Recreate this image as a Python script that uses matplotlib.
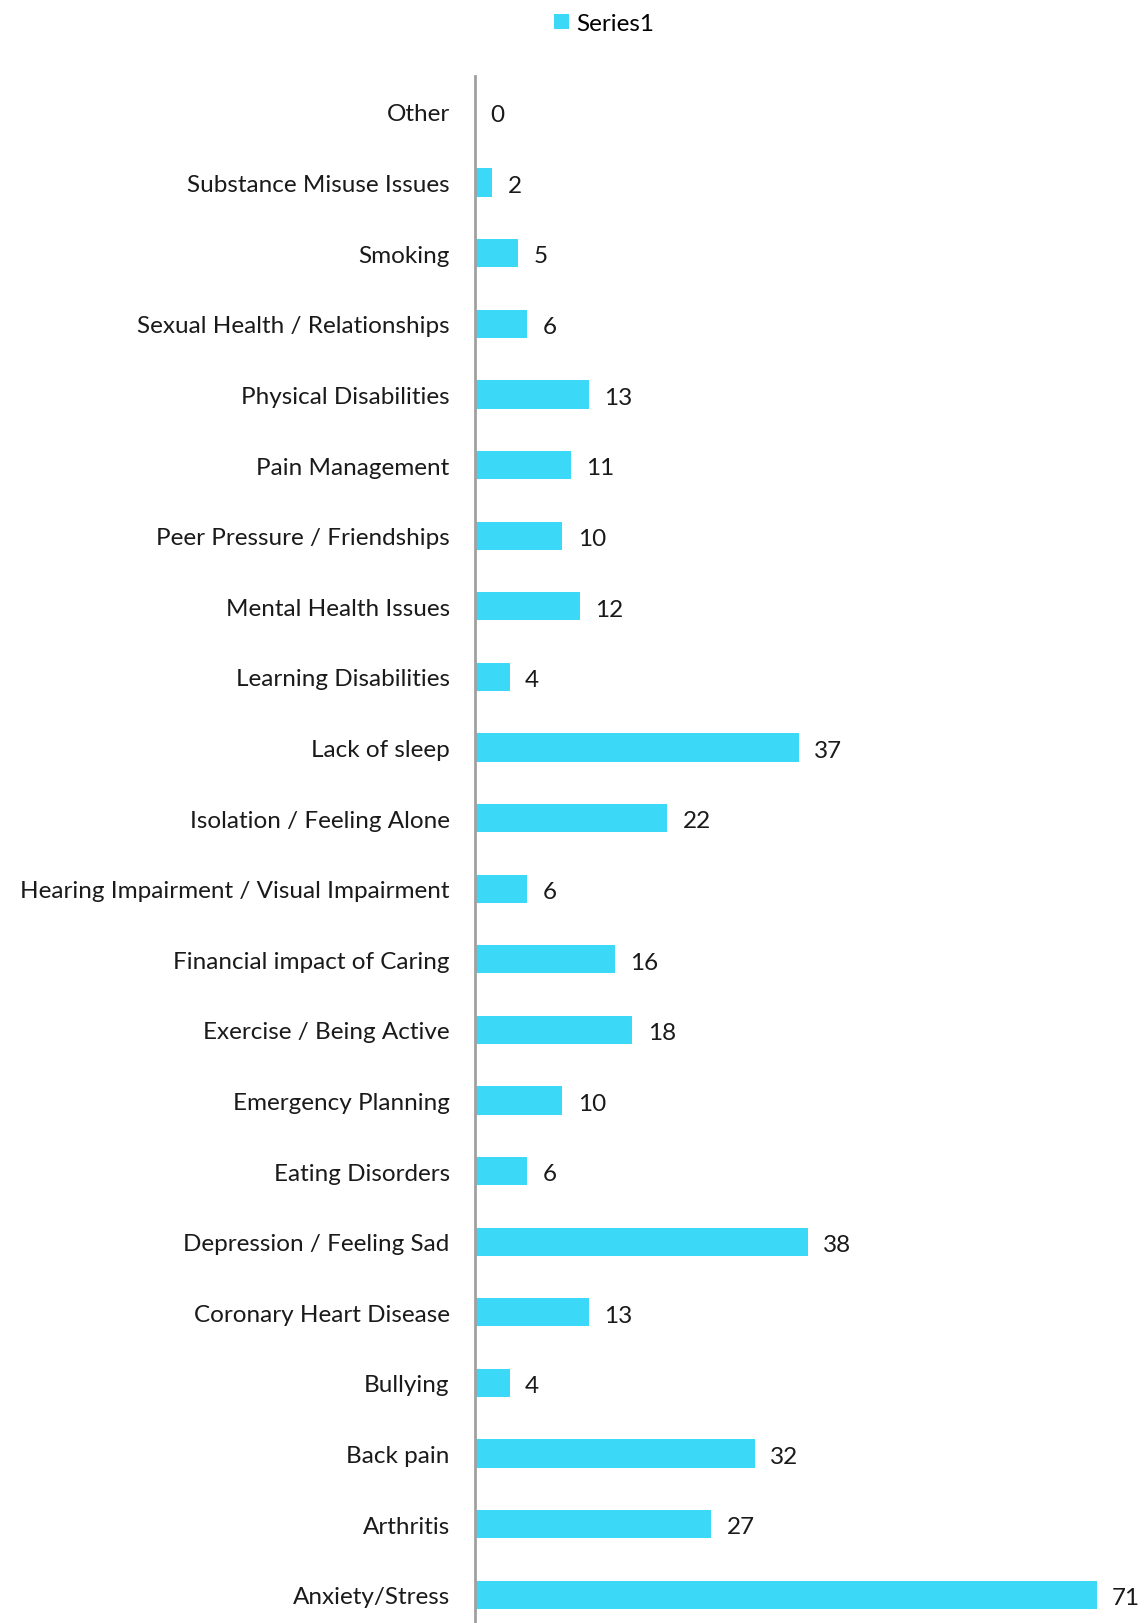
import matplotlib.pyplot as plt
import numpy as np

plt.rcParams['font.family'] = ['Lato', 'DejaVu Sans']

categories = [
    "Anxiety/Stress", "Arthritis", "Back pain", "Bullying",
    "Coronary Heart Disease", "Depression / Feeling Sad", "Eating Disorders",
    "Emergency Planning", "Exercise / Being Active", "Financial impact of Caring",
    "Hearing Impairment / Visual Impairment", "Isolation / Feeling Alone",
    "Lack of sleep", "Learning Disabilities", "Mental Health Issues",
    "Peer Pressure / Friendships", "Pain Management", "Physical Disabilities",
    "Sexual Health / Relationships", "Smoking", "Substance Misuse Issues", "Other",
]
values = [71, 27, 32, 4, 13, 38, 6, 10, 18, 16, 6, 22, 37, 4, 12, 10, 11, 13, 6, 5, 2, 0]

bar_color = "#3BD9F7"

fig = plt.figure(figsize=(11.46, 16.24), dpi=100)
ax = fig.add_axes([0.4142, 0.0, 0.5858, 0.9526])

y = np.arange(len(categories))
bars = ax.barh(y, values, height=0.4, color=bar_color, label="Series1")

for yi, v in zip(y, values):
    ax.annotate(str(v), (v, yi), xytext=(11, -2), textcoords="offset points",
                va="center", ha="left", fontsize=17.5, color="#1a1a1a")

ax.set_yticks(y)
ax.set_yticklabels(categories, fontsize=17.5, color="#1a1a1a")
ax.tick_params(axis="y", length=0, pad=18)
ax.set_xticks([])
ax.set_xlim(0, 76.6)
ax.set_ylim(-0.40, 21.51)

for s in ["top", "right", "bottom"]:
    ax.spines[s].set_visible(False)
ax.spines["left"].set_color("#A0A0A0")
ax.spines["left"].set_linewidth(2)

fig.legend(handles=[bars], labels=["Series1"], loc="center", bbox_to_anchor=(0.527, 0.985),
           frameon=False, fontsize=17.5, handlelength=0.6, handleheight=0.6, handletextpad=0.3)

fig.savefig("out.png", dpi=100)
